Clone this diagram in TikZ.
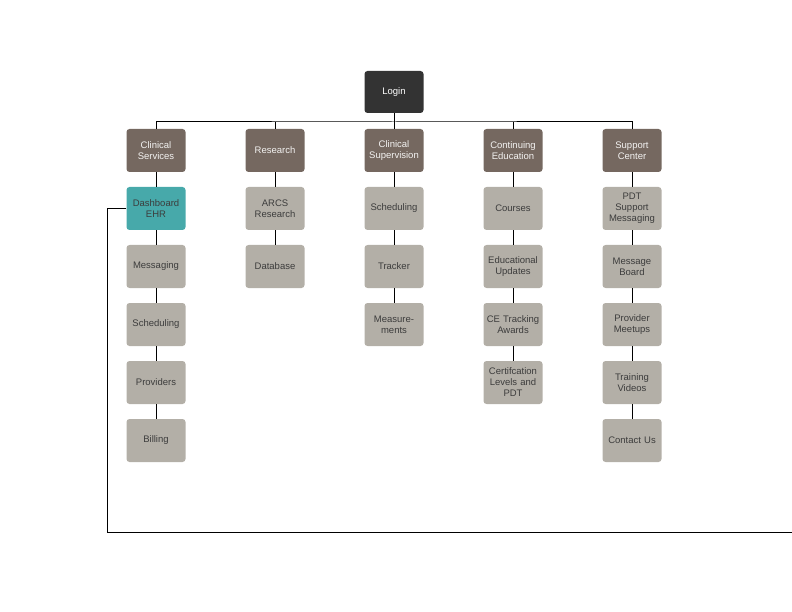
\documentclass[tikz,border=0pt]{standalone}
\usepackage{fontspec}
\setmainfont{Liberation Sans}

\begin{document}
\begin{tikzpicture}[x=1pt,y=-1pt,
	box/.style={rounded corners=3pt, minimum width=59pt, minimum height=43pt, text width=57pt, inner sep=0pt, align=center, font=\fontsize{9.5}{11}\selectfont},
	loginbox/.style={box, fill=loginfill, text=white, minimum height=42pt},
	groupbox/.style={box, fill=groupfill, text=white!92!groupfill},
	leafbox/.style={box, fill=leaffill, text=leaftext},
	dashbox/.style={box, fill=dashfill, text=leaftext},
	link/.style={black, line width=1pt}]
	\definecolor{loginfill}{RGB}{51, 51, 51}
	\definecolor{groupfill}{RGB}{117, 104, 96}
	\definecolor{leaffill}{RGB}{179, 175, 167}
	\definecolor{dashfill}{RGB}{71, 169, 170}
	\definecolor{leaftext}{RGB}{60, 60, 60}

	\useasboundingbox (0,0) rectangle (792,612);

	\node[loginbox] (login) at (394, 92) {Login};
	\coordinate (bus) at (394, 122);

	\node[groupbox] (clin) at (156, 150.5) {Clinical\\Services};
	\node[groupbox] (res) at (275, 150.5) {Research};
	\node[groupbox] (sup) at (394, 150.5) {Clinical\\Supervision};
	\node[groupbox] (edu) at (513, 150.5) {Continuing\\Education};
	\node[groupbox] (help) at (632, 150.5) {Support\\Center};

	\node[dashbox] (dash) at (156, 208.5) {Dashboard\\EHR};
	\node[leafbox] (msg) at (156, 266.5) {Messaging};
	\node[leafbox] (sched) at (156, 324.5) {Scheduling};
	\node[leafbox] (prov) at (156, 382.5) {Providers};
	\node[leafbox] (bill) at (156, 440.5) {Billing};

	\node[leafbox] (arcs) at (275, 208.5) {ARCS\\Research};
	\node[leafbox] (db) at (275, 266.5) {Database};

	\node[leafbox] (supsched) at (394, 208.5) {Scheduling};
	\node[leafbox] (track) at (394, 266.5) {Tracker};
	\node[leafbox] (meas) at (394, 324.5) {Measure-\\ments};

	\node[leafbox] (course) at (513, 208.5) {Courses};
	\node[leafbox] (update) at (513, 266.5) {Educational\\Updates};
	\node[leafbox] (award) at (513, 324.5) {CE Tracking\\Awards};
	\node[leafbox] (cert) at (513, 382.5) {Certifcation\\Levels and\\PDT};

	\node[leafbox] (pdt) at (632, 208.5) {PDT\\Support\\Messaging};
	\node[leafbox] (board) at (632, 266.5) {Message\\Board};
	\node[leafbox] (meet) at (632, 324.5) {Provider\\Meetups};
	\node[leafbox] (video) at (632, 382.5) {Training\\Videos};
	\node[leafbox] (contact) at (632, 440.5) {Contact Us};

	% bus under login
	\draw[link] (login) -- (bus);
	\draw[link] (clin.north) |- (bus) -| (help.north);
	\draw[link] (res.north) -- (res.north |- bus);
	\draw[link] (sup.north) -- (bus);
	\draw[link] (edu.north) -- (edu.north |- bus);

	% columns
	\draw[link] (clin) -- (dash) -- (msg) -- (sched) -- (prov) -- (bill);
	\draw[link] (res) -- (arcs) -- (db);
	\draw[link] (sup) -- (supsched) -- (track) -- (meas);
	\draw[link] (edu) -- (course) -- (update) -- (award) -- (cert);
	\draw[link] (help) -- (pdt) -- (board) -- (meet) -- (video) -- (contact);

	% loop out of the dashboard
	\coordinate (corner) at (107, 532);
	\coordinate (edge) at (792, 532);
	\draw[link] (dash.west) -| (corner) -- (edge);
\end{tikzpicture}
\end{document}
